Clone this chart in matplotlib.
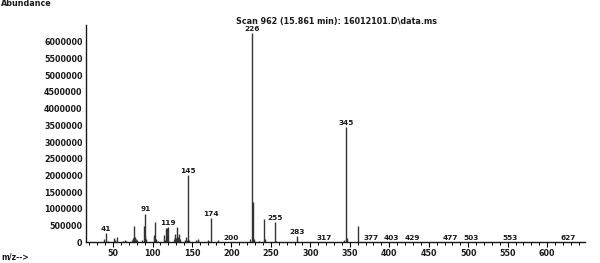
import matplotlib
matplotlib.use("Agg")
import matplotlib.pyplot as plt
from matplotlib.ticker import MultipleLocator, FuncFormatter

# ---- data (m/z, abundance) ----
mz = [39, 41, 43, 51, 53, 55, 63, 65, 67, 74, 75, 76, 77, 78, 79, 80,
      87, 89, 90, 91, 92, 102, 103, 104, 105, 107, 115, 116, 117, 118, 119,
      120, 127, 128, 129, 130, 131, 132, 133, 135, 141, 143, 144, 145, 146,
      155, 157, 158, 170, 171, 174, 183, 200, 224, 226, 227, 228, 235,
      241, 242, 255, 256, 283, 317, 343, 345, 346, 360, 377, 403, 429,
      477, 503, 553, 627]
abundance = [100000, 270000, 40000, 120000, 60000, 150000, 50000, 60000, 40000,
             80000, 120000, 150000, 490000, 160000, 100000, 60000,
             60000, 500000, 200000, 860000, 100000, 230000, 600000, 80000, 100000,
             50000, 220000, 80000, 440000, 430000, 460000,
             60000, 100000, 150000, 250000, 120000, 450000, 150000, 250000, 100000,
             60000, 160000, 60000, 2000000, 80000,
             60000, 90000, 60000, 60000, 40000, 720000, 60000, 20000, 100000,
             6250000, 1200000, 110000, 40000,
             700000, 110000, 610000, 40000, 190000, 20000, 60000, 3450000,
             120000, 490000, 10000, 10000, 10000,
             10000, 10000, 10000, 10000]
labelled = [41, 91, 119, 145, 174, 200, 226, 255, 283, 317, 345, 377, 403,
            429, 477, 503, 553, 627]
y_ticks = list(range(0, 6000001, 500000))
x_ticks = [50, 100, 150, 200, 250, 300, 350, 400, 450, 500, 550, 600]
title = "Scan 962 (15.861 min): 16012101.D\\data.ms"

W, H = 600, 263
fig = plt.figure(figsize=(W / 100, H / 100), dpi=100)
ax = fig.add_axes([86 / W, 1 - 242.3 / H, (585 - 86) / W, (242.3 - 25) / H])

ax.vlines(mz, 0, abundance, color="#333333", linewidth=1.0)

font = dict(family="DejaVu Sans", weight="bold", color="#1a1a1a")
lookup = dict(zip(mz, abundance))
for m in labelled:
    ax.annotate(str(m), (m, lookup[m]), xytext=(0, 0.8), textcoords="offset points",
                ha="center", va="bottom", fontsize=5.3, **font)

ax.set_xlim(15.7, 648)
ax.set_ylim(0, 6.5e6)
ax.set_yticks(y_ticks)
ax.yaxis.set_major_formatter(FuncFormatter(lambda v, p: f"{int(v)}"))
ax.set_xticks(x_ticks)
ax.xaxis.set_minor_locator(MultipleLocator(10))

for s in ["top", "right"]:
    ax.spines[s].set_visible(False)
for s in ["left", "bottom"]:
    ax.spines[s].set_linewidth(1.0)
    ax.spines[s].set_color("#1a1a1a")

ax.tick_params(axis="y", length=0, pad=2.5, labelsize=5.8)
ax.tick_params(axis="x", which="major", length=3.5, width=0.8, pad=1.5,
               labelsize=5.8, direction="out")
ax.tick_params(axis="x", which="minor", length=1.8, width=0.7, direction="out")
for lab in ax.get_xticklabels() + ax.get_yticklabels():
    lab.set_fontweight("bold")
    lab.set_color("#1a1a1a")

fig.text(1 / W, 1 - 4 / H, "Abundance", ha="left", va="center", fontsize=5.8, **font)
fig.text(1 / W, 1 - 257.5 / H, "m/z-->", ha="left", va="center", fontsize=5.5, **font)
fig.text(336.5 / W, 1 - 21.5 / H, title, ha="center", va="center", fontsize=5.8, **font)

fig.savefig("out.png", dpi=100)
